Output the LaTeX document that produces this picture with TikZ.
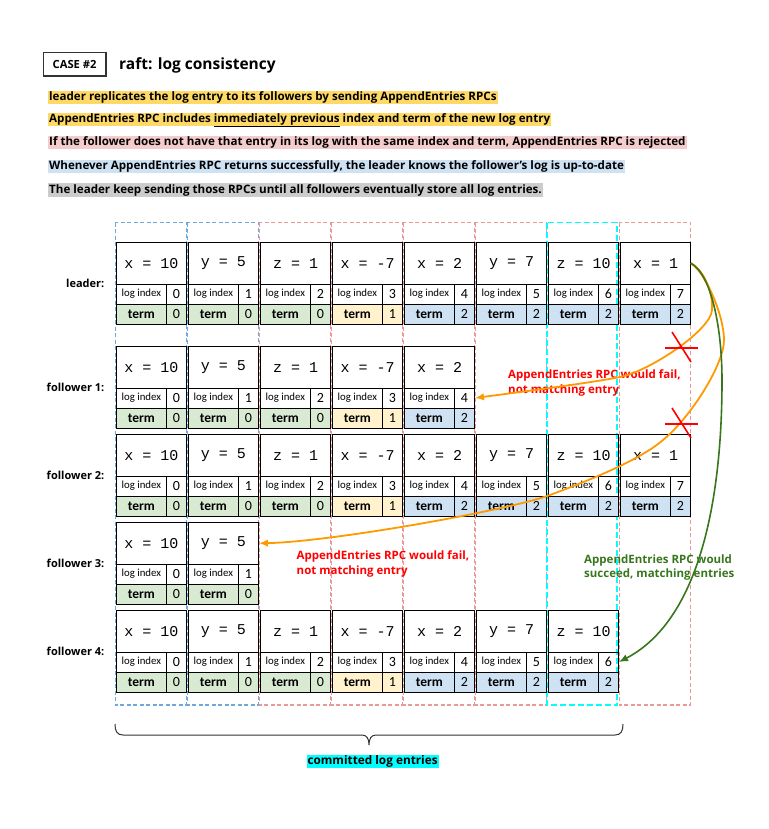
\documentclass[tikz,border=0pt]{standalone}
\usepackage{fontspec}
\setmainfont{Open Sans}
\newfontfamily\carlito{Carlito}
\newfontfamily\monof{Liberation Mono}
\usetikzlibrary{arrows.meta}
\definecolor{tgreen}{HTML}{D9EAD3}
\definecolor{tyellow}{HTML}{FFF2CC}
\definecolor{tblue}{HTML}{CFE2F3}
\definecolor{hlyellow}{HTML}{FFD966}
\definecolor{hlpink}{HTML}{F4CCCC}
\definecolor{hlblue}{HTML}{CFE2F3}
\definecolor{hlgray}{HTML}{CCCCCC}
\definecolor{dblue}{HTML}{6FA8DC}
\definecolor{dpink}{HTML}{EA9999}
\definecolor{dcyan}{HTML}{00FFFF}
\definecolor{aorange}{HTML}{FF9900}
\definecolor{agreen}{HTML}{38761D}
\definecolor{lred}{HTML}{FF0000}
\tikzset{
  cellbase/.style={draw=black, line width=1pt, inner sep=0pt, anchor=north west},
  valbox/.style={cellbase, minimum width=70pt, minimum height=41.5pt, font=\monof\fontsize{15}{15}\selectfont},
  idxlbl/.style={cellbase, minimum width=49.7pt, minimum height=20pt, font=\carlito\fontsize{10.8}{10.8}\selectfont},
  idxnum/.style={cellbase, minimum width=20.3pt, minimum height=20pt, font=\carlito\fontsize{14}{14}\selectfont},
  termlbl/.style={cellbase, minimum width=49.7pt, minimum height=20pt, font=\carlito\bfseries\fontsize{13.5}{13.5}\selectfont},
  termnum/.style={idxnum},
  coldash/.style={line width=1.1pt, dash pattern=on 4pt off 2.5pt},
  cyandash/.style={draw=dcyan, line width=1.8pt, dash pattern=on 6pt off 3pt},
  hl/.style={anchor=base west, inner xsep=1pt, inner ysep=0pt, text height=9.8pt, text depth=3.4pt, font=\bfseries\fontsize{11.6}{13}\selectfont},
  rowlbl/.style={anchor=east, inner sep=0pt, font=\bfseries\fontsize{11}{13}\selectfont},
  note/.style={anchor=west, inner sep=0pt, align=left, font=\bfseries\fontsize{11.5}{14.5}\selectfont},
  oarr/.style={draw=aorange, line width=1.8pt, -{Latex[length=9pt,width=7.5pt]}},
  garr/.style={draw=agreen, line width=1.6pt, -{Latex[length=9pt,width=7.5pt]}},
  xline/.style={draw=lred, line width=1.6pt},
}
\newcommand\logrow[3]{%
  \foreach \val/\tm/\cc [count=\ci from 0] in {x = 10/0/tgreen,y = 5/0/tgreen,z = 1/0/tgreen,x = -7/1/tyellow,x = 2/2/tblue,y = 7/2/tblue,z = 10/2/tblue,x = 1/2/tblue}{%
    \ifnum\ci<#3\relax
      \pgfmathsetmacro\xl{116+72*\ci}
      \node[valbox] (#1\ci v) at (\xl,#2) {\val};
      \node[idxlbl] (#1\ci i) at (\xl,#2+41.5) {log index};
      \node[idxnum] (#1\ci n) at (\xl+49.7,#2+41.5) {\ci};
      \node[termlbl,fill=\cc] (#1\ci t) at (\xl,#2+61.5) {term};
      \node[termnum,fill=\cc] (#1\ci u) at (\xl+49.7,#2+61.5) {\tm};
    \fi
  }%
}
\begin{document}
\begin{tikzpicture}[x=1pt,y=-1pt]
\useasboundingbox (0,0) rectangle (768,829);
% header
\node[draw=black!80, line width=1.2pt, minimum width=62.7pt, minimum height=23.3pt, inner sep=0pt, font=\bfseries\fontsize{11.2}{12}\selectfont] (case) at (74.6,64.3) {CASE \#2};
\node[anchor=west, inner sep=0pt, font=\bfseries\fontsize{15.5}{18}\selectfont] (title) at (119,65) {raft: log consistency};
\node[hl, fill=hlyellow] (h1) at (48,100.5) {leader replicates the log entry to its followers by sending AppendEntries RPCs};
\node[hl, fill=hlyellow] (h2) at (48,122.5) {AppendEntries RPC includes \underline{immediately previous} index and term of the new log entry};
\node[hl, fill=hlpink] (h3) at (48,146) {If the follower does not have that entry in its log with the same index and term, AppendEntries RPC is rejected};
\node[hl, fill=hlblue] (h4) at (48,169.9) {Whenever AppendEntries RPC returns successfully, the leader knows the follower’s log is up-to-date};
\node[hl, fill=hlgray] (h5) at (48,193.2) {The leader keep sending those RPCs until all followers eventually store all log entries.};
% dashed columns
\foreach \ci/\cl in {0/dblue,1/dblue,2/dpink,3/dpink,4/dpink,5/dpink,7/dpink}
  \draw[coldash, draw=\cl] (115.3+72*\ci,222.5) rectangle (186.7+72*\ci,705);
\draw[cyandash] (547.3,222.5) rectangle (617.3,705);
% rows
\logrow{L}{242}{8}
\logrow{A}{346}{5}
\logrow{B}{434}{8}
\logrow{C}{522}{2}
\logrow{D}{610}{7}
% row labels
\node[rowlbl] (lL) at (104.5,283) {leader:};
\node[rowlbl] (lA) at (104.5,387) {follower 1:};
\node[rowlbl] (lB) at (104.5,475) {follower 2:};
\node[rowlbl] (lC) at (104.5,563) {follower 3:};
\node[rowlbl] (lD) at (104.5,651) {follower 4:};
% labels
\node[note, text=lred] (fail1) at (508,383) {AppendEntries RPC would fail,\\not matching entry};
\node[note, text=lred] (fail2) at (296.5,564) {AppendEntries RPC would fail,\\not matching entry};
\node[note, text=agreen] (ok) at (584,567.5) {AppendEntries RPC would\\succeed, matching entries};
% arrows
\draw[oarr] (L7v.east) .. controls (703,270) and (713,290) .. (712,310) .. controls (711,330) and (650,371) .. (620,377) .. controls (590,383) and (520,392) .. (A4n.east);
\draw[oarr] (L7v.east) .. controls (705,272) and (724,315) .. (724,340) .. controls (724,365) and (690,418) .. (663,440) .. controls (640,460) and (590,480) .. (550,495) .. controls (510,510) and (330,542) .. (C1v.east);
\draw[garr] (L7v.east) .. controls (712,275) and (722,330) .. (722,380) .. controls (722,450) and (715,612) .. (D6n.east);
% crosses
\draw[xline] (665,348) -- (698,348);
\draw[xline] (672,332) -- (691,362);
\draw[xline] (665,424) -- (698,424);
\draw[xline] (672,408) -- (691,438);
% brace
\draw[black!80, line width=1pt] (115,724) .. controls (115,731) and (117,735) .. (123,735) -- (362,735) .. controls (367,735) and (369,739) .. (369,745)
  .. controls (369,739) and (371,735) .. (376,735) -- (615,735) .. controls (621,735) and (623,731) .. (623,724);
\node[fill=dcyan, inner xsep=1pt, inner ysep=0pt, text height=9.8pt, text depth=3.4pt, font=\bfseries\fontsize{11.8}{13}\selectfont] (committed) at (372.6,761.3) {committed log entries};
\end{tikzpicture}
\end{document}
